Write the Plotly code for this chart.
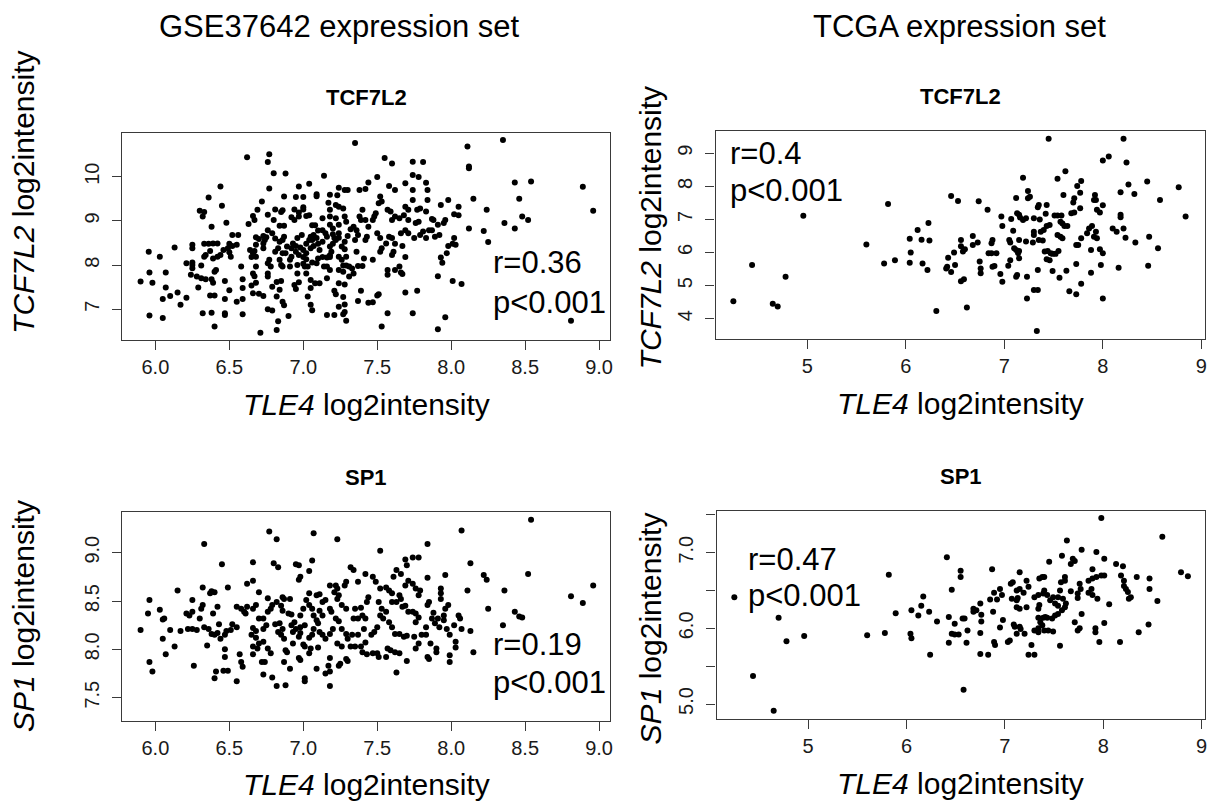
import plotly.graph_objects as go

W, H = 1215, 808

# ---------------- GSE37642: TLE4 vs TCF7L2 ----------------
gse_tle4_a = [
    7.35, 6.62, 6.77, 6.76, 6.80, 6.88, 6.44, 7.14, 7.04, 6.97, 6.36, 6.77, 6.87, 6.95, 7.00, 7.09, 7.09, 7.18, 7.24, 7.28,
    7.30, 7.38, 7.42, 7.44, 7.23, 7.17, 6.45, 6.30, 6.33, 6.32, 6.38, 6.48, 6.72, 6.69, 6.66, 6.67, 6.63, 6.76, 6.81, 6.85,
    6.86, 6.80, 6.84, 6.87, 6.92, 6.94, 6.94, 6.97, 7.00, 7.02, 6.97, 7.00, 7.04, 7.06, 7.08, 7.13, 7.18, 7.18, 7.22, 7.24,
    7.27, 7.28, 7.29, 7.22, 7.24, 7.18, 7.20, 7.32, 7.34, 7.36, 7.38, 7.40, 7.39, 7.42, 7.44, 7.43, 7.42, 7.37, 7.35, 7.30,
    7.28, 7.15, 7.16, 7.13, 7.09, 7.06, 7.04, 7.02, 6.99, 6.96, 6.93, 6.95, 6.98, 7.00, 7.02, 7.05, 7.07, 7.10, 7.11, 7.18,
    7.20, 7.22, 7.24, 7.26, 7.28, 7.18, 7.18, 7.16, 7.24, 7.26, 7.29, 7.31, 7.29, 7.33, 7.27, 7.24, 7.27, 7.37, 7.40, 7.41,
    7.36, 7.39, 7.37, 7.44, 7.34, 7.31, 7.28, 7.24, 7.27, 7.28, 7.28, 7.27, 7.29, 7.21, 7.22, 7.24, 7.21, 7.16, 7.16, 7.18,
    7.14, 7.16, 7.10, 7.13, 7.06, 7.09, 7.02, 7.00, 6.97, 6.95, 6.92, 6.91, 6.96, 7.01, 7.02, 7.05, 7.08, 7.11, 7.03, 7.05,
    7.06, 6.97, 6.94, 6.95, 6.91, 6.86, 6.84, 6.85, 6.86, 6.83, 6.81, 6.77, 6.76, 6.78, 6.76, 6.76, 6.79, 6.82, 6.85, 6.84,
    6.82, 6.86, 6.87, 6.90, 6.83, 6.82, 6.79, 6.76, 6.71, 6.73, 6.70, 6.66, 6.68, 6.65, 6.66, 6.67, 6.68, 6.66, 6.68, 6.67,
    6.73, 6.73, 6.74, 6.75, 6.68, 6.70, 6.73, 6.64, 6.65, 6.59, 6.59, 6.59, 6.59, 6.55, 6.58, 6.55, 6.56, 6.50, 6.52, 6.49,
    6.50, 6.51, 6.44, 6.42, 6.39, 6.46, 6.42, 6.37, 6.34, 6.33, 6.33, 6.36, 6.39, 6.25, 6.25, 6.31, 6.25, 6.21, 6.25, 6.24,
    6.31, 6.29, 6.34, 6.40, 6.41, 6.38, 6.39, 6.47, 6.50, 6.37, 6.40, 6.47, 6.32, 6.38, 6.47, 6.47, 6.40, 6.13, 6.03, 5.955,
    5.96, 6.07, 5.90, 5.98, 6.07, 6.15, 6.10, 6.05, 6.21, 6.17, 5.96, 6.05, 6.25, 6.28, 6.52, 6.68, 7.05, 7.07, 7.10, 7.13,
    7.05, 7.20, 7.24, 7.19, 7.21, 7.03, 7.00, 6.96, 6.88, 6.89, 6.92, 6.86, 6.87, 6.81, 6.84, 6.79, 6.76,
    8.35, 8.11, 8.12, 8.12, 7.55, 7.60, 7.74, 7.81, 7.74, 7.78, 7.50, 7.58, 7.62, 7.69, 7.74, 7.83, 7.84, 7.84, 7.93, 7.98,
    8.05, 8.05, 8.02, 8.15, 8.24, 8.43, 8.54, 8.46, 8.48, 8.52, 8.36, 8.43, 8.89, 8.96, 8.12, 8.22, 8.25, 8.02, 8.03, 8.01,
    7.97, 7.93, 7.91, 8.01, 8.07, 7.77, 7.69, 7.51, 7.50, 7.47, 7.57, 7.74, 7.53, 7.96, 7.91, 8.81, 7.65, 7.62, 7.66, 7.67,
    7.57, 7.57, 7.60, 7.61, 7.69, 7.56, 7.53, 7.52, 7.47, 7.60, 7.58, 7.66, 7.69, 7.71, 7.67, 7.62, 7.75, 7.79, 7.81, 7.85,
    7.87, 7.83, 7.89, 7.92, 7.88, 7.91, 7.95, 7.96, 7.76, 7.78, 7.71, 7.68, 7.65, 7.60, 7.62, 7.59, 7.57, 7.69, 7.71, 7.77,
    7.79, 7.47, 7.48, 7.49, 7.51, 7.53, 7.52, 7.50, 7.52, 7.74, 7.83, 7.87, 7.98, 7.94,
]
gse_tcf7l2 = [
    10.76, 10.44, 10.51, 10.33, 10.08, 10.07, 9.78, 10.02, 9.84, 9.78, 9.53, 9.73, 9.55, 9.54, 9.54, 9.56, 9.60, 9.59, 9.75, 9.70,
    9.70, 9.70, 9.72, 9.87, 9.58, 9.41, 9.34, 9.23, 9.20, 9.10, 8.87, 8.96, 9.44, 9.25, 9.11, 9.02, 8.93, 9.14, 9.26, 9.20,
    9.24, 9.02, 8.89, 8.89, 9.08, 9.02, 9.26, 9.19, 9.26, 9.11, 9.10, 9.31, 9.13, 8.90, 8.90, 9.06, 9.25, 9.10, 9.36, 9.32,
    9.28, 9.10, 8.98, 9.06, 8.91, 8.91, 8.83, 8.81, 8.87, 8.79, 9.10, 9.25, 9.02, 9.02, 8.87, 8.64, 8.57, 8.68, 8.57, 8.66,
    8.53, 8.72, 8.64, 8.53, 8.61, 8.57, 8.57, 8.48, 8.68, 8.61, 8.49, 8.43, 8.40, 8.34, 8.27, 8.38, 8.43, 8.48, 8.34, 8.42,
    8.48, 8.57, 8.62, 8.42, 8.36, 8.18, 8.22, 8.17, 8.19, 8.12, 8.19, 7.97, 7.99, 7.92, 7.99, 7.89, 7.85, 7.98, 7.98, 8.15,
    8.30, 7.42, 7.19, 7.15, 7.81, 7.74, 7.56, 7.59, 7.28, 7.11, 6.94, 6.89, 6.74, 7.42, 7.34, 7.06, 6.87, 6.87, 7.70, 7.89,
    7.97, 7.97, 8.15, 8.18, 8.06, 8.04, 8.13, 8.18, 8.23, 8.30, 8.19, 8.12, 8.00, 7.97, 7.81, 7.66, 7.59, 7.59, 7.29, 7.10,
    6.98, 7.61, 7.55, 7.46, 7.97, 8.27, 8.12, 8.00, 7.97, 8.38, 8.30, 8.12, 8.04, 7.97, 7.81, 7.74, 7.51, 7.62, 7.64, 7.44,
    7.29, 7.17, 7.09, 6.85, 6.73, 6.53, 6.97, 7.00, 6.47, 7.30, 7.35, 7.36, 7.60, 7.54, 7.81, 7.75, 7.97, 8.27, 8.19, 8.32,
    8.38, 8.49, 8.57, 8.63, 8.63, 8.59, 8.66, 8.34, 8.18, 7.68, 7.48, 7.23, 6.89, 7.17, 7.97, 8.46, 8.68, 8.48, 8.43, 8.38,
    8.29, 8.19, 8.23, 8.19, 8.15, 8.34, 8.49, 8.32, 8.23, 8.19, 8.48, 8.48, 8.49, 8.46, 8.38, 7.99, 8.00, 8.04, 8.06, 7.78,
    7.70, 7.49, 7.68, 7.85, 7.89, 7.68, 7.60, 7.64, 7.43, 7.31, 7.31, 7.23, 6.91, 6.92, 6.91, 6.87, 6.61, 8.40, 8.19, 8.30,
    7.83, 7.83, 7.63, 7.60, 7.49, 7.38, 7.30, 7.23, 7.26, 7.10, 6.86, 6.80, 7.93, 7.74, 8.68, 8.46, 8.64, 8.68, 8.78, 8.79,
    7.48, 8.70, 8.72, 8.30, 8.61, 7.97, 8.03, 7.81, 8.27, 8.42, 8.38, 8.57, 8.64, 8.60, 8.53, 8.72, 8.79,
    10.83, 10.68, 10.23, 10.19, 10.42, 10.30, 10.34, 10.33, 10.04, 9.99, 9.99, 9.79, 9.70, 9.85, 9.70, 9.86, 9.70, 9.47, 9.36, 9.47,
    9.32, 9.13, 9.15, 9.50, 9.25, 9.87, 9.89, 9.50, 9.10, 9.02, 8.95, 8.83, 9.77, 9.23, 8.83, 8.77, 8.52, 8.61, 8.46, 8.48,
    8.27, 8.17, 7.75, 7.64, 7.57, 7.42, 7.38, 7.34, 7.31, 7.16, 6.91, 6.91, 6.61, 6.82, 6.55, 6.74, 7.97, 7.89, 7.83, 7.80,
    7.89, 7.78, 8.23, 8.30, 8.18, 8.49, 8.38, 8.30, 8.12, 8.61, 8.64, 8.72, 8.79, 8.72, 8.43, 8.48, 8.61, 8.68, 8.76, 8.79,
    8.79, 8.61, 8.64, 8.68, 9.02, 8.91, 8.95, 9.02, 8.95, 8.98, 9.02, 9.13, 9.06, 9.02, 9.10, 9.21, 9.25, 9.32, 9.25, 9.25,
    9.28, 9.02, 9.10, 9.17, 9.40, 9.44, 9.55, 8.72, 8.61, 9.47, 9.21, 9.04, 8.43, 8.05,
]

# ---------------- TCGA: TLE4 vs TCF7L2 ----------------
tcga_tle4_b = [
    4.25, 4.44, 4.65, 4.70, 4.78, 4.96, 5.60, 5.82, 5.78, 5.89, 6.04, 6.05, 6.04, 6.12, 6.16, 6.23, 6.24, 6.17, 6.22, 6.31,
    6.43, 6.42, 6.41, 6.46, 6.50, 6.49, 6.46, 6.53, 6.56, 6.56, 6.58, 6.60, 6.56, 6.59, 6.62,
    7.45, 8.21, 8.00, 8.06, 8.24, 7.62, 7.19, 7.54, 7.78, 7.74, 7.24, 7.24, 7.26, 7.12, 7.34, 7.35, 7.43, 7.60, 7.71, 7.70,
    7.77, 7.77, 7.92, 7.93, 7.91, 8.00, 7.94, 7.97, 8.18, 8.26, 8.32, 8.45, 8.58, 8.77, 8.84, 8.18, 8.18, 8.10, 8.14, 8.21,
    8.23, 8.33, 8.47, 8.56, 8.46, 8.16, 8.00, 7.98, 7.97, 8.00, 7.88, 7.88, 7.91, 7.94, 7.93, 7.84, 7.86, 7.89, 7.78, 7.73,
    7.75, 7.73, 7.78, 7.66, 7.73, 7.63, 7.56, 7.49, 7.49, 7.52, 7.55, 7.43, 7.46, 7.41, 7.34, 7.30, 7.34, 7.33, 7.23, 7.23,
    7.13, 7.12, 6.98, 6.96, 6.90, 6.88, 7.04, 7.06, 7.15, 7.14, 7.15, 7.10, 7.12, 7.05, 7.06, 7.15, 7.22, 7.29, 7.35, 7.39,
    7.37, 7.40, 7.43, 7.46, 7.54, 7.57, 7.59, 7.59, 7.61, 7.57, 7.51, 7.54, 7.58, 7.64, 7.68, 7.71, 7.42, 7.30, 7.36, 7.44,
    7.47, 7.22, 7.19, 7.16, 7.15, 7.13, 7.07, 6.97, 6.98, 7.09, 6.83, 6.74, 6.68, 6.68, 6.73, 6.75, 6.76, 6.76, 6.87, 6.88,
    6.84, 6.87, 6.92, 7.30, 7.30,
]
tcga_tcf7l2 = [
    4.53, 5.62, 4.45, 4.37, 5.27, 7.11, 6.24, 7.47, 5.67, 5.77, 5.69, 6.00, 6.42, 6.68, 6.39, 6.89, 6.36, 5.67, 5.47, 4.23,
    5.84, 5.57, 5.52, 5.41, 5.62, 6.00, 7.71, 7.56, 6.38, 6.19, 6.03, 6.10, 5.13, 5.19, 4.34,
    9.44, 9.44, 8.78, 8.90, 8.72, 8.46, 8.26, 8.23, 8.16, 8.01, 7.86, 7.64, 7.69, 7.65, 7.37, 7.44, 7.44, 7.74, 7.64, 7.51,
    7.81, 7.34, 7.74, 7.59, 7.59, 7.43, 7.29, 7.21, 7.82, 8.06, 7.77, 8.15, 7.59, 7.97, 7.09, 7.14, 7.07, 6.73, 6.63, 6.73,
    6.45, 6.30, 6.48, 6.13, 5.60, 5.54, 4.61, 5.62, 6.10, 5.98, 6.08, 5.39, 6.48, 6.43, 6.63, 6.58, 6.73, 6.80, 6.43, 6.23,
    6.23, 5.65, 5.06, 4.83, 4.74, 5.45, 5.24, 5.44, 5.96, 5.96, 6.05, 5.80, 5.77, 6.03, 5.47, 4.87, 4.87, 3.63, 4.61, 5.27,
    5.32, 5.27, 5.12, 5.35, 5.59, 5.57, 5.60, 5.77, 5.83, 5.98, 6.05, 6.13, 6.08, 6.38, 6.30, 6.38, 6.33, 6.30, 6.38, 6.36,
    6.63, 6.68, 6.80, 6.83, 6.53, 6.48, 6.43, 6.88, 6.80, 6.93, 7.12, 7.12, 7.12, 6.80, 7.19, 7.21, 7.17, 7.04, 7.00, 6.05,
    5.98, 7.04, 6.98, 7.06, 7.14, 7.19, 7.01, 7.09, 6.80, 6.66, 7.29, 7.55, 6.50, 6.23, 6.30, 5.73, 5.52, 5.37, 6.28, 6.38,
    5.98, 5.98, 5.98, 6.63, 6.53,
]

# ---------------- GSE37642: TLE4 vs SP1 ----------------
gse_tle4_c = [
    6.77, 6.82, 7.07, 7.23, 6.33, 6.66, 6.45, 6.80, 6.83, 6.95, 6.97, 7.06, 7.04, 6.98, 6.97, 7.32, 7.34, 7.29, 7.28, 7.42,
    7.37, 6.62, 6.66, 6.32, 6.37, 6.38, 6.40, 6.49, 6.70, 6.15, 5.96, 6.03, 5.95, 6.06, 6.05, 6.10, 5.90, 6.05, 6.13, 6.07,
    5.96, 5.98, 6.17, 6.21, 6.23, 6.25, 6.25, 6.32, 6.22, 6.25, 6.28, 6.30, 6.31, 6.33, 6.36, 6.35, 6.26, 6.39, 6.42, 6.38,
    6.40, 6.42, 6.43, 6.44, 6.47, 6.48, 6.47, 6.47, 6.41, 6.40, 6.46, 6.49, 6.55, 6.52, 6.55, 6.51, 6.55, 6.58, 6.60, 6.61,
    6.62, 6.66, 6.68, 6.57, 6.58, 6.59, 6.66, 6.66, 6.65, 6.68, 6.66, 6.73, 6.75, 6.73, 6.70, 6.76, 6.78, 6.76, 6.79, 6.82,
    6.86, 6.87, 6.91, 6.85, 6.86, 6.81, 6.84, 6.86, 6.83, 6.85, 6.87, 6.68, 6.69, 6.70, 6.73, 6.76, 6.78, 6.72, 6.74, 6.73,
    6.79, 6.82, 6.88, 6.87, 6.88, 6.89, 6.91, 6.93, 6.93, 6.92, 6.94, 6.90, 6.92, 6.95, 6.98, 7.01, 6.98, 7.00, 7.02, 7.04,
    7.04, 7.06, 7.07, 7.09, 7.11, 7.13, 7.15, 7.11, 7.13, 6.98, 6.97, 7.00, 7.01, 6.97, 6.98, 7.01, 7.01, 7.04, 7.06, 7.09,
    7.10, 7.07, 7.11, 7.13, 7.15, 7.10, 7.04, 7.05, 7.09, 7.17, 7.18, 7.15, 7.18, 7.18, 7.24, 7.25, 7.29, 7.30, 7.18, 7.22,
    7.23, 7.21, 7.24, 7.23, 7.18, 7.19, 7.22, 7.24, 7.26, 7.29, 7.26, 7.29, 7.30, 7.20, 7.18, 7.23, 7.26, 7.32, 7.35, 7.39,
    7.34, 7.37, 7.35, 7.39, 7.40, 7.42, 7.41, 7.42, 7.40, 7.43, 7.44, 7.43, 7.37, 7.33,
    8.54, 8.07, 7.84, 7.52, 7.69, 7.74, 7.78, 7.70, 8.13, 8.22, 8.24, 8.52, 8.11, 8.36, 8.96, 8.81, 8.89, 8.43, 8.46, 8.48,
    8.25, 8.35, 8.15, 7.96, 7.84, 7.93, 7.93, 7.93, 7.98, 7.96, 7.88, 7.87, 7.91, 7.95, 7.95, 7.89, 7.92, 7.83, 7.97, 7.99,
    8.05, 8.06, 8.02, 8.07, 8.13, 8.03, 8.03, 7.99, 7.99, 7.90, 7.90, 7.84, 7.85, 7.86, 7.78, 7.76, 7.70, 7.63, 7.65, 7.62,
    7.59, 7.57, 7.56, 7.51, 7.50, 7.47, 7.62, 7.65, 7.68, 7.70, 7.75, 7.80, 7.83, 7.76, 7.78, 7.76, 7.71, 7.74, 7.67, 7.69,
    7.63, 7.60, 7.65, 7.66, 7.60, 7.58, 7.56, 7.52, 7.49, 7.47, 7.51, 7.53, 7.56, 7.52, 7.54, 7.58, 7.60, 7.50, 7.48, 7.46,
    7.71, 7.74, 7.76, 7.79, 7.78, 7.84, 7.85, 7.63, 7.66, 7.69, 7.61,
]
gse_sp1 = [
    9.22, 9.14, 9.20, 9.14, 9.09, 8.90, 8.88, 8.89, 8.85, 8.88, 8.87, 8.92, 8.81, 8.75, 8.72, 8.85, 8.82, 8.70, 8.66, 8.78,
    8.70, 8.68, 8.71, 8.64, 8.58, 8.60, 8.59, 8.64, 8.59, 8.61, 8.51, 8.41, 8.37, 8.32, 8.31, 8.20, 8.20, 8.11, 8.03, 7.95,
    7.87, 7.77, 8.19, 8.37, 8.35, 8.39, 8.51, 8.46, 8.21, 8.21, 8.20, 8.32, 8.42, 8.23, 8.21, 8.04, 7.83, 8.37, 8.44, 8.16,
    8.15, 8.17, 8.26, 8.11, 8.15, 8.19, 8.00, 7.92, 7.77, 7.70, 7.78, 7.78, 7.67, 8.26, 8.23, 8.20, 8.44, 8.42, 8.39, 8.37,
    8.44, 8.42, 8.46, 7.95, 7.87, 7.82, 7.95, 8.03, 8.15, 8.19, 8.22, 8.21, 8.25, 8.32, 8.32, 8.39, 8.42, 8.53, 8.46, 8.49,
    8.54, 8.52, 8.52, 8.45, 8.40, 8.26, 8.27, 8.21, 8.18, 8.15, 8.11, 8.12, 8.01, 8.06, 8.08, 8.01, 7.96, 7.87, 7.87, 7.74,
    7.71, 7.62, 7.63, 7.87, 7.99, 7.97, 7.80, 8.06, 8.18, 8.25, 8.28, 8.37, 8.36, 8.21, 8.23, 8.25, 8.35, 8.42, 8.51, 8.46,
    8.58, 8.42, 8.35, 8.56, 8.57, 8.49, 8.51, 8.40, 8.35, 8.17, 8.13, 8.05, 8.03, 7.91, 7.89, 7.70, 7.67, 8.12, 8.15, 8.30,
    8.27, 8.21, 8.18, 8.15, 8.11, 8.02, 7.96, 8.01, 7.80, 7.83, 7.91, 7.75, 7.77, 7.62, 7.83, 7.85, 7.90, 7.88, 8.66, 8.66,
    8.63, 8.59, 8.56, 8.52, 8.42, 8.39, 8.32, 8.29, 8.46, 8.42, 8.21, 8.16, 8.11, 8.21, 8.16, 8.06, 8.03, 8.03, 8.03, 8.03,
    8.32, 8.32, 8.42, 8.43, 8.35, 8.32, 8.21, 8.07, 7.97, 7.95, 8.54, 8.49, 8.15, 8.15,
    9.34, 9.23, 9.09, 9.02, 8.93, 8.95, 8.95, 8.87, 8.89, 8.77, 8.72, 8.78, 8.61, 8.61, 8.66, 8.55, 8.48, 8.39, 8.34, 8.33,
    8.42, 8.25, 7.97, 8.77, 8.74, 8.63, 8.58, 8.52, 8.46, 8.42, 8.38, 8.32, 8.32, 8.35, 8.30, 8.27, 8.23, 8.23, 8.21, 8.15,
    8.35, 8.32, 8.25, 8.21, 8.19, 8.08, 8.02, 7.94, 7.87, 8.01, 7.97, 7.92, 7.90, 8.06, 8.06, 8.01, 7.88, 7.76, 7.96, 7.97,
    7.99, 8.01, 7.92, 7.92, 7.96, 7.96, 8.16, 8.16, 8.13, 8.14, 8.13, 8.15, 8.15, 8.28, 8.33, 8.37, 8.39, 8.39, 8.44, 8.45,
    8.49, 8.49, 8.56, 8.52, 8.58, 8.61, 8.64, 8.63, 8.70, 8.75, 8.49, 8.42, 8.39, 8.35, 8.32, 8.28, 8.23, 8.23, 8.18, 8.15,
    8.71, 8.68, 8.63, 8.61, 8.56, 8.46, 8.49, 8.82, 8.78, 8.66, 8.75,
]

# ---------------- TCGA: TLE4 vs SP1 ----------------
tcga_tle4_d = [
    4.25, 4.70, 4.78, 4.96, 4.44, 4.65, 5.82, 5.89, 5.60, 5.78, 6.04, 6.05, 6.05, 6.12, 6.15, 6.17, 6.23, 6.31, 6.24, 6.41,
    6.55, 6.55, 6.46, 6.43, 6.49, 6.46, 6.49, 6.53, 6.43, 6.61, 6.57, 6.59, 6.62, 6.58,
    7.98, 8.60, 7.63, 7.78, 7.93, 7.69, 7.71, 7.67, 8.01, 8.13, 8.20, 7.45, 7.58, 7.15, 6.87, 8.79, 8.86, 8.47, 8.47, 8.55,
    8.34, 8.18, 8.21, 8.21, 8.23, 8.25, 8.28, 8.26, 8.06, 7.94, 7.98, 8.01, 7.93, 7.89, 7.89, 7.85, 7.88, 7.85, 7.89, 7.76,
    7.77, 7.74, 7.74, 7.67, 7.61, 7.61, 7.57, 7.56, 7.54, 7.59, 7.62, 7.61, 7.58, 7.54, 7.51, 7.48, 7.43, 7.41, 7.39, 7.34,
    7.43, 7.46, 7.49, 7.39, 7.40, 7.35, 7.38, 7.40, 7.30, 7.34, 7.35, 7.34, 7.36, 7.38, 7.34, 7.30, 7.34, 7.40, 7.44, 7.49,
    7.27, 7.24, 7.30, 7.20, 7.22, 7.22, 7.24, 7.15, 7.12, 7.19, 7.06, 7.08, 7.07, 7.12, 7.13, 7.12, 7.15, 6.95, 6.89, 6.85,
    6.92, 6.97, 6.88, 6.98, 6.95, 7.09, 7.10, 7.15, 7.16, 7.03, 7.05, 7.12, 6.89, 6.90, 6.75, 6.75, 6.83, 6.68, 6.68, 6.71,
    6.75, 6.76, 6.76, 7.71, 7.78, 7.74, 7.76, 7.92, 7.92, 8.01, 7.96, 8.17, 8.36, 8.46, 7.56, 7.51, 7.54,
]
tcga_sp1 = [
    6.41, 6.14, 5.83, 5.90, 5.37, 4.91, 6.71, 6.20, 5.91, 5.94, 5.93, 5.87, 6.24, 6.17, 6.30, 6.42, 6.22, 6.09, 5.65, 6.94,
    6.76, 6.68, 6.51, 6.15, 6.06, 5.93, 5.92, 5.92, 5.81, 5.81, 6.13, 6.13, 5.97, 5.19,
    7.46, 7.21, 7.16, 7.04, 7.01, 6.92, 6.89, 6.85, 6.92, 6.85, 6.82, 6.88, 6.96, 6.74, 6.78, 6.74, 6.69, 6.66, 6.52, 6.36,
    6.68, 6.70, 6.63, 6.56, 6.52, 6.48, 6.41, 6.39, 6.32, 6.39, 6.70, 6.70, 6.68, 6.66, 6.78, 6.63, 6.52, 6.47, 6.44, 6.59,
    6.52, 6.46, 6.40, 6.49, 6.68, 6.63, 6.61, 6.50, 6.41, 6.39, 6.33, 6.28, 6.24, 6.19, 6.17, 6.13, 6.14, 6.15, 6.14, 6.14,
    6.44, 6.37, 6.41, 6.46, 6.50, 6.66, 6.68, 6.68, 6.41, 6.44, 6.31, 6.26, 6.08, 6.04, 6.00, 5.97, 5.95, 5.97, 5.97, 5.96,
    5.78, 5.65, 5.65, 5.93, 6.28, 6.63, 6.55, 6.52, 6.50, 6.47, 6.59, 6.61, 6.39, 6.37, 6.40, 6.28, 6.26, 6.52, 6.47, 6.38,
    6.38, 6.44, 6.22, 6.11, 6.01, 6.05, 6.02, 6.02, 5.99, 5.82, 5.84, 5.93, 5.82, 5.78, 5.94, 5.66, 5.65, 6.26, 6.22, 6.24,
    6.33, 6.18, 6.09, 6.08, 6.19, 5.97, 6.00, 6.00, 5.95, 6.07, 5.82, 5.82, 5.95, 6.05, 5.77, 6.33, 6.30,
]

# tick labels
gse_x_ticks = [6.0, 6.5, 7.0, 7.5, 8.0, 8.5, 9.0]
gse_x_text = ["6.0", "6.5", "7.0", "7.5", "8.0", "8.5", "9.0"]
tcga_x_ticks = [5, 6, 7, 8, 9]
tcga_x_text = ["5", "6", "7", "8", "9"]
a_y_ticks = [7, 8, 9, 10]
a_y_text = ["7", "8", "9", "10"]
b_y_ticks = [4, 5, 6, 7, 8, 9]
b_y_text = ["4", "5", "6", "7", "8", "9"]
c_y_ticks = [7.5, 8.0, 8.5, 9.0]
c_y_text = ["7.5", "8.0", "8.5", "9.0"]
d_y_ticks = [5.0, 5.5, 6.0, 6.5, 7.0, 7.5]
d_y_text = ["5.0", "", "6.0", "", "7.0", ""]

stats = [("r=0.36", "p<0.001"), ("r=0.4", "p<0.001"), ("r=0.19", "p<0.001"), ("r=0.47", "p<0.001")]
titles = ["TCF7L2", "TCF7L2", "SP1", "SP1"]
ylabels = ["<i>TCF7L2</i> log2intensity", "<i>TCF7L2</i> log2intensity",
           "<i>SP1</i> log2intensity", "<i>SP1</i> log2intensity"]
headings = ["GSE37642 expression set", "TCGA expression set"]

FONT = "Liberation Sans, Arial, Helvetica, sans-serif"


def fx(p):
    return p / W


def fy(p):
    return 1 - p / H


# panel boxes in pixels: (left, right, top, bottom)
boxes = [(122.7, 611.7, 132.7, 340.0), (717.3, 1207.7, 131.0, 339.0),
         (122.7, 611.7, 512.3, 720.7), (718.3, 1208.0, 511.0, 719.0)]
xranges = [[5.777, 9.075], [4.069, 9.034], [5.777, 9.075], [4.069, 9.034]]
yranges = [[6.305, 10.995], [3.386, 9.674], [7.262, 9.418], [4.802, 7.551]]
xdata = [gse_tle4_a, tcga_tle4_b, gse_tle4_c, tcga_tle4_d]
ydata = [gse_tcf7l2, tcga_tcf7l2, gse_sp1, tcga_sp1]
xticks = [(gse_x_ticks, gse_x_text), (tcga_x_ticks, tcga_x_text), (gse_x_ticks, gse_x_text), (tcga_x_ticks, tcga_x_text)]
yticks = [(a_y_ticks, a_y_text), (b_y_ticks, b_y_text), (c_y_ticks, c_y_text), (d_y_ticks, d_y_text)]

fig = go.Figure()
layout = dict(
    width=W, height=H, margin=dict(l=0, r=0, t=0, b=0),
    paper_bgcolor="white", plot_bgcolor="white", showlegend=False,
    font=dict(family=FONT, color="black"),
)
annotations = []
axis_common = dict(showline=True, mirror=True, linecolor="#3a3a3a", linewidth=1.2,
                   ticks="outside", ticklen=9, tickwidth=1.2, tickcolor="#3a3a3a",
                   showgrid=False, zeroline=False, tickfont=dict(size=20, color="#1a1a1a", family=FONT))

for i in range(4):
    sfx = "" if i == 0 else str(i + 1)
    l, r, t, b = boxes[i]
    fig.add_trace(go.Scatter(x=xdata[i], y=ydata[i], mode="markers",
                             marker=dict(size=6, color="black", line=dict(width=0)),
                             xaxis="x" + sfx, yaxis="y" + sfx, hoverinfo="skip"))
    layout["xaxis" + sfx] = dict(domain=[fx(l), fx(r)], range=xranges[i], anchor="y" + sfx,
                                 tickmode="array", tickvals=xticks[i][0], ticktext=xticks[i][1], **axis_common)
    layout["yaxis" + sfx] = dict(domain=[fy(b), fy(t)], range=yranges[i], anchor="x" + sfx,
                                 tickmode="array", tickvals=yticks[i][0], ticktext=yticks[i][1],
                                 tickangle=-90, ticklabelstandoff=5, **axis_common)
    cx = (l + r) / 2
    # panel title
    annotations.append(dict(text="<b>" + titles[i] + "</b>", x=fx(cx), y=fy(t - 35), xref="paper", yref="paper",
                            showarrow=False, font=dict(size=22), xanchor="center", yanchor="middle"))
    # x axis title
    annotations.append(dict(text="<i>TLE4</i> log2intensity", x=fx(cx), y=fy(b + 64), xref="paper", yref="paper",
                            showarrow=False, font=dict(size=30), xanchor="center", yanchor="middle"))

# y axis titles
ylab_pos = [(23, 192), (652, 228), (23, 616), (652, 628)]
for i, (xp, yp) in enumerate(ylab_pos):
    annotations.append(dict(text=ylabels[i], x=fx(xp), y=fy(yp), xref="paper", yref="paper",
                            showarrow=False, font=dict(size=30), textangle=-90,
                            xanchor="center", yanchor="middle"))

# statistics text (left edge, line centres)
stat_pos = [(492, 263, 302), (730, 153, 190), (492, 644, 682), (748, 559, 595)]
for i, (xp, y1, y2) in enumerate(stat_pos):
    for txt, yp in ((stats[i][0], y1), (stats[i][1], y2)):
        annotations.append(dict(text=txt, x=fx(xp), y=fy(yp), xref="paper", yref="paper",
                                showarrow=False, font=dict(size=31), xanchor="left", yanchor="middle"))

# headings
for txt, xp in zip(headings, (340, 962)):
    annotations.append(dict(text=txt, x=fx(xp), y=fy(26), xref="paper", yref="paper",
                            showarrow=False, font=dict(size=31), xanchor="center", yanchor="middle"))

layout["annotations"] = annotations
fig.update_layout(**layout)
fig.write_html("out.html", config={"displayModeBar": False},
               post_script="document.body.style.margin='0';document.body.style.overflow='hidden';")
